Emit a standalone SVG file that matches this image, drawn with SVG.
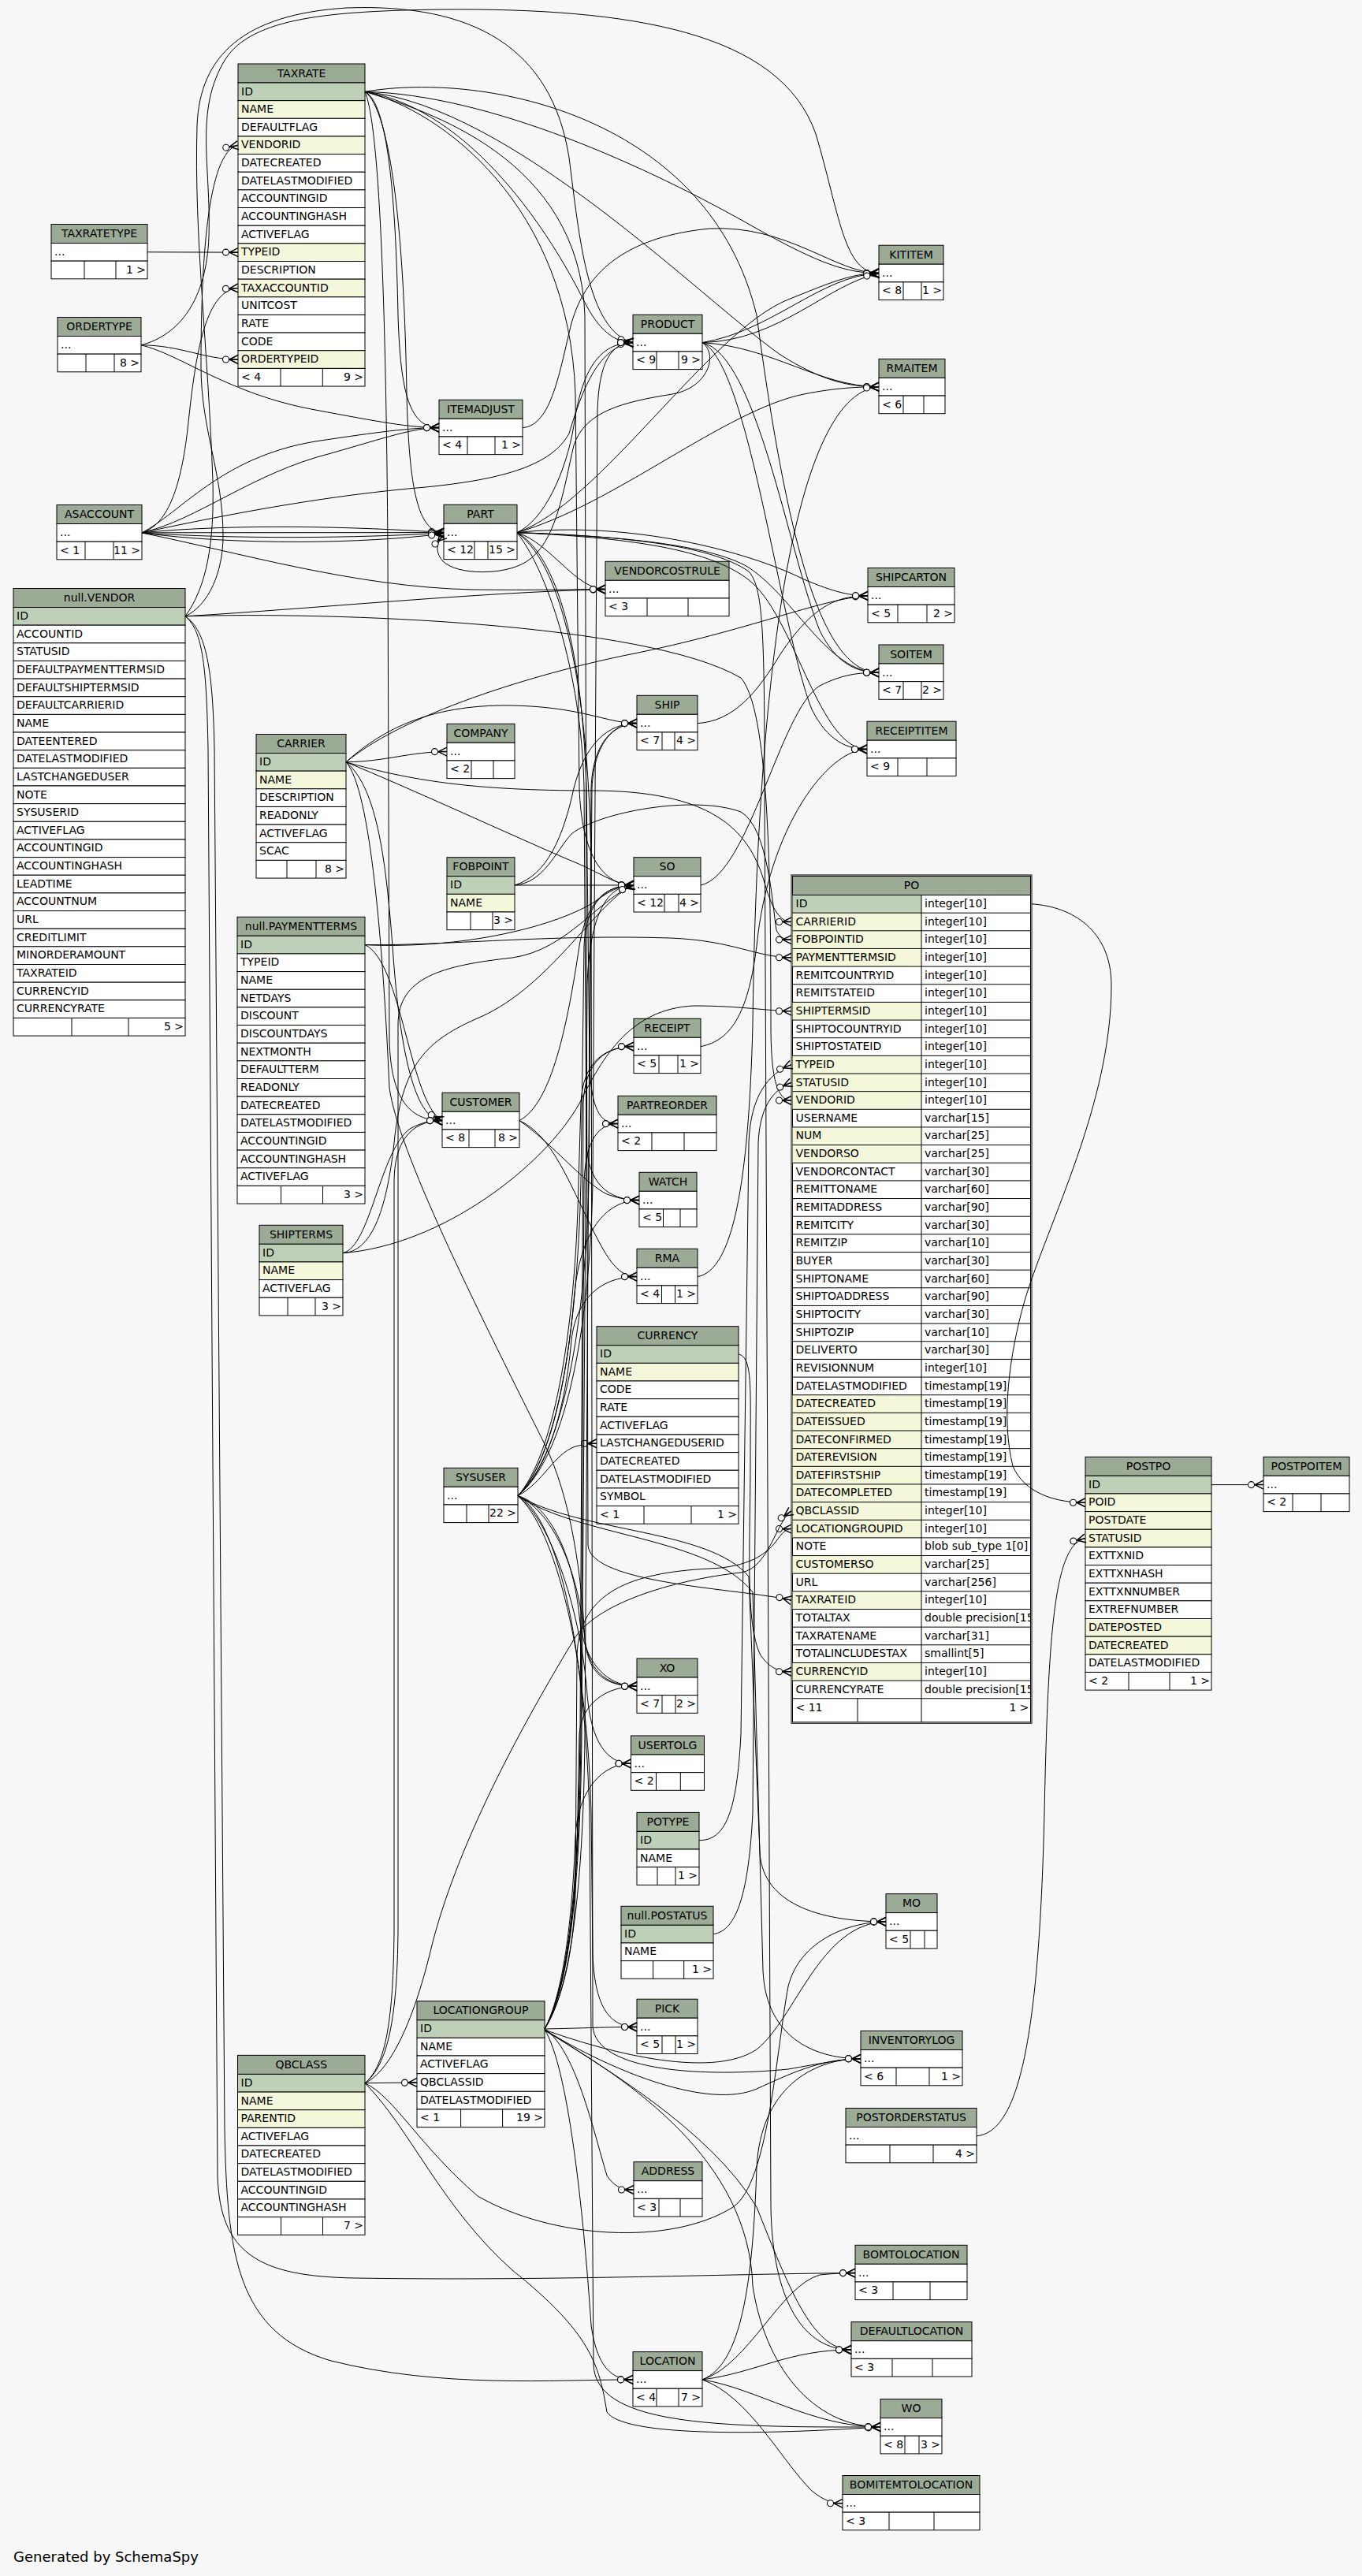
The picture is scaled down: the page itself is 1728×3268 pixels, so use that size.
<svg xmlns="http://www.w3.org/2000/svg" width="1728" height="3268" viewBox="0 0 1728 3268">
<style>
rect{stroke:#000;stroke-width:1}
.bg{fill:#f7f7f7;stroke:none}
.hd{fill:#9bab96}
.pk{fill:#bed1b8}
.ix{fill:#f4f7da}
.wt{fill:#fff}
.f{stroke:none}
.dv{fill:none;stroke:#000;stroke-width:1}
text{font-family:"DejaVu Sans","Liberation Sans",sans-serif;font-size:14px;fill:#000}
.c{text-anchor:middle}
.r{text-anchor:end}
.e path{fill:none;stroke:#000;stroke-width:1;marker-end:url(#cf)}
</style>
<defs>
<marker id="cf" markerUnits="userSpaceOnUse" viewBox="0 0 22 14" markerWidth="22" markerHeight="14" refX="21" refY="7" orient="auto" overflow="visible">
<path d="M10,7L21,1.5M10,7L21,7M10,7L21,12.5" fill="none" stroke="#000" stroke-width="1.5"/>
<circle cx="5.5" cy="7" r="4" fill="#fff" stroke="#000" stroke-width="1.1"/>
</marker>
<clipPath id="poclip"><rect x="163.5" y="0" width="138" height="1074"/></clipPath>
</defs>
<rect class="bg" width="1728" height="3268"/>

<!-- ===== TABLES ===== -->
<g id="t-TAXRATE" transform="translate(302,81)">
<rect class="hd" width="161" height="24"/><text class="c" x="80.5" y="16.5">TAXRATE</text>
<rect class="pk" y="24" width="161" height="22.65"/><text x="4" y="39.5">ID</text>
<rect class="ix" y="46.65" width="161" height="22.65"/><text x="4" y="62.15">NAME</text>
<rect class="wt" y="69.3" width="161" height="22.65"/><text x="4" y="84.8">DEFAULTFLAG</text>
<rect class="ix" y="91.95" width="161" height="22.65"/><text x="4" y="107.45">VENDORID</text>
<rect class="wt" y="114.6" width="161" height="22.65"/><text x="4" y="130.1">DATECREATED</text>
<rect class="wt" y="137.25" width="161" height="22.65"/><text x="4" y="152.75">DATELASTMODIFIED</text>
<rect class="wt" y="159.9" width="161" height="22.65"/><text x="4" y="175.4">ACCOUNTINGID</text>
<rect class="wt" y="182.55" width="161" height="22.65"/><text x="4" y="198.05">ACCOUNTINGHASH</text>
<rect class="wt" y="205.2" width="161" height="22.65"/><text x="4" y="220.7">ACTIVEFLAG</text>
<rect class="ix" y="227.85" width="161" height="22.65"/><text x="4" y="243.35">TYPEID</text>
<rect class="wt" y="250.5" width="161" height="22.65"/><text x="4" y="266">DESCRIPTION</text>
<rect class="ix" y="273.15" width="161" height="22.65"/><text x="4" y="288.65">TAXACCOUNTID</text>
<rect class="wt" y="295.8" width="161" height="22.65"/><text x="4" y="311.3">UNITCOST</text>
<rect class="wt" y="318.45" width="161" height="22.65"/><text x="4" y="333.95">RATE</text>
<rect class="wt" y="341.1" width="161" height="22.65"/><text x="4" y="356.6">CODE</text>
<rect class="ix" y="363.75" width="161" height="22.65"/><text x="4" y="379.25">ORDERTYPEID</text>
<rect class="wt" y="386.4" width="161" height="22.65"/><path class="dv" d="M54 386.4v22.65M107.3 386.4v22.65"/><text x="4" y="401.9">&lt; 4</text><text class="r" x="159" y="401.9">9 &gt;</text>
</g>

<g id="t-TAXRATETYPE" transform="translate(65,284.5)">
<rect class="hd" width="122" height="24"/><text class="c" x="61" y="16.5">TAXRATETYPE</text>
<rect class="wt" y="24" width="122" height="22.65"/><text x="4" y="39.5">...</text>
<rect class="wt" y="46.65" width="122" height="22.65"/><path class="dv" d="M42 46.65v22.65M82 46.65v22.65"/><text class="r" x="120" y="62.15">1 &gt;</text>
</g>

<g id="t-ORDERTYPE" transform="translate(73,402.5)">
<rect class="hd" width="106" height="24"/><text class="c" x="53" y="16.5">ORDERTYPE</text>
<rect class="wt" y="24" width="106" height="22.65"/><text x="4" y="39.5">...</text>
<rect class="wt" y="46.65" width="106" height="22.65"/><path class="dv" d="M36 46.65v22.65M72 46.65v22.65"/><text class="r" x="104" y="62.15">8 &gt;</text>
</g>

<g id="t-ASACCOUNT" transform="translate(72,640.5)">
<rect class="hd" width="108" height="24"/><text class="c" x="54" y="16.5">ASACCOUNT</text>
<rect class="wt" y="24" width="108" height="22.65"/><text x="4" y="39.5">...</text>
<rect class="wt" y="46.65" width="108" height="22.65"/><path class="dv" d="M36 46.65v22.65M72 46.65v22.65"/><text x="4" y="62.15">&lt; 1</text><text class="r" x="106" y="62.15">11 &gt;</text>
</g>

<g id="t-VENDOR" transform="translate(17,746.5)">
<rect class="hd" width="218" height="24"/><text class="c" x="109" y="16.5">null.VENDOR</text>
<rect class="pk" y="24" width="218" height="22.65"/><text x="4" y="39.5">ID</text>
<rect class="wt" y="46.65" width="218" height="22.65"/><text x="4" y="62.15">ACCOUNTID</text>
<rect class="wt" y="69.3" width="218" height="22.65"/><text x="4" y="84.8">STATUSID</text>
<rect class="wt" y="91.95" width="218" height="22.65"/><text x="4" y="107.45">DEFAULTPAYMENTTERMSID</text>
<rect class="wt" y="114.6" width="218" height="22.65"/><text x="4" y="130.1">DEFAULTSHIPTERMSID</text>
<rect class="wt" y="137.25" width="218" height="22.65"/><text x="4" y="152.75">DEFAULTCARRIERID</text>
<rect class="wt" y="159.9" width="218" height="22.65"/><text x="4" y="175.4">NAME</text>
<rect class="wt" y="182.55" width="218" height="22.65"/><text x="4" y="198.05">DATEENTERED</text>
<rect class="wt" y="205.2" width="218" height="22.65"/><text x="4" y="220.7">DATELASTMODIFIED</text>
<rect class="wt" y="227.85" width="218" height="22.65"/><text x="4" y="243.35">LASTCHANGEDUSER</text>
<rect class="wt" y="250.5" width="218" height="22.65"/><text x="4" y="266">NOTE</text>
<rect class="wt" y="273.15" width="218" height="22.65"/><text x="4" y="288.65">SYSUSERID</text>
<rect class="wt" y="295.8" width="218" height="22.65"/><text x="4" y="311.3">ACTIVEFLAG</text>
<rect class="wt" y="318.45" width="218" height="22.65"/><text x="4" y="333.95">ACCOUNTINGID</text>
<rect class="wt" y="341.1" width="218" height="22.65"/><text x="4" y="356.6">ACCOUNTINGHASH</text>
<rect class="wt" y="363.75" width="218" height="22.65"/><text x="4" y="379.25">LEADTIME</text>
<rect class="wt" y="386.4" width="218" height="22.65"/><text x="4" y="401.9">ACCOUNTNUM</text>
<rect class="wt" y="409.05" width="218" height="22.65"/><text x="4" y="424.55">URL</text>
<rect class="wt" y="431.7" width="218" height="22.65"/><text x="4" y="447.2">CREDITLIMIT</text>
<rect class="wt" y="454.35" width="218" height="22.65"/><text x="4" y="469.85">MINORDERAMOUNT</text>
<rect class="wt" y="477" width="218" height="22.65"/><text x="4" y="492.5">TAXRATEID</text>
<rect class="wt" y="499.65" width="218" height="22.65"/><text x="4" y="515.15">CURRENCYID</text>
<rect class="wt" y="522.3" width="218" height="22.65"/><text x="4" y="537.8">CURRENCYRATE</text>
<rect class="wt" y="544.95" width="218" height="22.65"/><path class="dv" d="M74 544.95v22.65M146 544.95v22.65"/><text class="r" x="216" y="560.45">5 &gt;</text>
</g>

<g id="t-CARRIER" transform="translate(325,931.5)">
<rect class="hd" width="114" height="24"/><text class="c" x="57" y="16.5">CARRIER</text>
<rect class="pk" y="24" width="114" height="22.65"/><text x="4" y="39.5">ID</text>
<rect class="ix" y="46.65" width="114" height="22.65"/><text x="4" y="62.15">NAME</text>
<rect class="wt" y="69.3" width="114" height="22.65"/><text x="4" y="84.8">DESCRIPTION</text>
<rect class="wt" y="91.95" width="114" height="22.65"/><text x="4" y="107.45">READONLY</text>
<rect class="wt" y="114.6" width="114" height="22.65"/><text x="4" y="130.1">ACTIVEFLAG</text>
<rect class="wt" y="137.25" width="114" height="22.65"/><text x="4" y="152.75">SCAC</text>
<rect class="wt" y="159.9" width="114" height="22.65"/><path class="dv" d="M39 159.9v22.65M76 159.9v22.65"/><text class="r" x="112" y="175.4">8 &gt;</text>
</g>

<g id="t-PAYMENTTERMS" transform="translate(301,1163.3)">
<rect class="hd" width="162" height="24"/><text class="c" x="81" y="16.5">null.PAYMENTTERMS</text>
<rect class="pk" y="24" width="162" height="22.65"/><text x="4" y="39.5">ID</text>
<rect class="wt" y="46.65" width="162" height="22.65"/><text x="4" y="62.15">TYPEID</text>
<rect class="wt" y="69.3" width="162" height="22.65"/><text x="4" y="84.8">NAME</text>
<rect class="wt" y="91.95" width="162" height="22.65"/><text x="4" y="107.45">NETDAYS</text>
<rect class="wt" y="114.6" width="162" height="22.65"/><text x="4" y="130.1">DISCOUNT</text>
<rect class="wt" y="137.25" width="162" height="22.65"/><text x="4" y="152.75">DISCOUNTDAYS</text>
<rect class="wt" y="159.9" width="162" height="22.65"/><text x="4" y="175.4">NEXTMONTH</text>
<rect class="wt" y="182.55" width="162" height="22.65"/><text x="4" y="198.05">DEFAULTTERM</text>
<rect class="wt" y="205.2" width="162" height="22.65"/><text x="4" y="220.7">READONLY</text>
<rect class="wt" y="227.85" width="162" height="22.65"/><text x="4" y="243.35">DATECREATED</text>
<rect class="wt" y="250.5" width="162" height="22.65"/><text x="4" y="266">DATELASTMODIFIED</text>
<rect class="wt" y="273.15" width="162" height="22.65"/><text x="4" y="288.65">ACCOUNTINGID</text>
<rect class="wt" y="295.8" width="162" height="22.65"/><text x="4" y="311.3">ACCOUNTINGHASH</text>
<rect class="wt" y="318.45" width="162" height="22.65"/><text x="4" y="333.95">ACTIVEFLAG</text>
<rect class="wt" y="341.1" width="162" height="22.65"/><path class="dv" d="M55.5 341.1v22.65M108.5 341.1v22.65"/><text class="r" x="160" y="356.6">3 &gt;</text>
</g>

<g id="t-SHIPTERMS" transform="translate(329,1554.3)">
<rect class="hd" width="106" height="24"/><text class="c" x="53" y="16.5">SHIPTERMS</text>
<rect class="pk" y="24" width="106" height="22.65"/><text x="4" y="39.5">ID</text>
<rect class="ix" y="46.65" width="106" height="22.65"/><text x="4" y="62.15">NAME</text>
<rect class="wt" y="69.3" width="106" height="22.65"/><text x="4" y="84.8">ACTIVEFLAG</text>
<rect class="wt" y="91.95" width="106" height="22.65"/><path class="dv" d="M36 91.95v22.65M71 91.95v22.65"/><text class="r" x="104" y="107.45">3 &gt;</text>
</g>

<g id="t-QBCLASS" transform="translate(301.5,2607.4)">
<rect class="hd" width="161.5" height="24"/><text class="c" x="80.75" y="16.5">QBCLASS</text>
<rect class="pk" y="24" width="161.5" height="22.65"/><text x="4" y="39.5">ID</text>
<rect class="ix" y="46.65" width="161.5" height="22.65"/><text x="4" y="62.15">NAME</text>
<rect class="ix" y="69.3" width="161.5" height="22.65"/><text x="4" y="84.8">PARENTID</text>
<rect class="wt" y="91.95" width="161.5" height="22.65"/><text x="4" y="107.45">ACTIVEFLAG</text>
<rect class="wt" y="114.6" width="161.5" height="22.65"/><text x="4" y="130.1">DATECREATED</text>
<rect class="wt" y="137.25" width="161.5" height="22.65"/><text x="4" y="152.75">DATELASTMODIFIED</text>
<rect class="wt" y="159.9" width="161.5" height="22.65"/><text x="4" y="175.4">ACCOUNTINGID</text>
<rect class="wt" y="182.55" width="161.5" height="22.65"/><text x="4" y="198.05">ACCOUNTINGHASH</text>
<rect class="wt" y="205.2" width="161.5" height="22.65"/><path class="dv" d="M55 205.2v22.65M108 205.2v22.65"/><text class="r" x="159.5" y="220.7">7 &gt;</text>
</g>

<g id="t-LOCATIONGROUP" transform="translate(529,2538.7)">
<rect class="hd" width="162" height="24"/><text class="c" x="81" y="16.5">LOCATIONGROUP</text>
<rect class="pk" y="24" width="162" height="22.65"/><text x="4" y="39.5">ID</text>
<rect class="wt" y="46.65" width="162" height="22.65"/><text x="4" y="62.15">NAME</text>
<rect class="wt" y="69.3" width="162" height="22.65"/><text x="4" y="84.8">ACTIVEFLAG</text>
<rect class="wt" y="91.95" width="162" height="22.65"/><text x="4" y="107.45">QBCLASSID</text>
<rect class="wt" y="114.6" width="162" height="22.65"/><text x="4" y="130.1">DATELASTMODIFIED</text>
<rect class="wt" y="137.25" width="162" height="22.65"/><path class="dv" d="M55.6 137.25v22.65M108.6 137.25v22.65"/><text x="4" y="152.75">&lt; 1</text><text class="r" x="160" y="152.75">19 &gt;</text>
</g>

<g id="t-FOBPOINT" transform="translate(567,1087.7)">
<rect class="hd" width="86" height="24"/><text class="c" x="43" y="16.5">FOBPOINT</text>
<rect class="pk" y="24" width="86" height="22.65"/><text x="4" y="39.5">ID</text>
<rect class="ix" y="46.65" width="86" height="22.65"/><text x="4" y="62.15">NAME</text>
<rect class="wt" y="69.3" width="86" height="22.65"/><path class="dv" d="M30 69.3v22.65M58 69.3v22.65"/><text class="r" x="84" y="84.8">3 &gt;</text>
</g>

<g id="t-CURRENCY" transform="translate(757,1682.7)">
<rect class="hd" width="180" height="24"/><text class="c" x="90" y="16.5">CURRENCY</text>
<rect class="pk" y="24" width="180" height="22.65"/><text x="4" y="39.5">ID</text>
<rect class="ix" y="46.65" width="180" height="22.65"/><text x="4" y="62.15">NAME</text>
<rect class="wt" y="69.3" width="180" height="22.65"/><text x="4" y="84.8">CODE</text>
<rect class="wt" y="91.95" width="180" height="22.65"/><text x="4" y="107.45">RATE</text>
<rect class="wt" y="114.6" width="180" height="22.65"/><text x="4" y="130.1">ACTIVEFLAG</text>
<rect class="wt" y="137.25" width="180" height="22.65"/><text x="4" y="152.75">LASTCHANGEDUSERID</text>
<rect class="wt" y="159.9" width="180" height="22.65"/><text x="4" y="175.4">DATECREATED</text>
<rect class="wt" y="182.55" width="180" height="22.65"/><text x="4" y="198.05">DATELASTMODIFIED</text>
<rect class="wt" y="205.2" width="180" height="22.65"/><text x="4" y="220.7">SYMBOL</text>
<rect class="wt" y="227.85" width="180" height="22.65"/><path class="dv" d="M60 227.85v22.65M120 227.85v22.65"/><text x="4" y="243.35">&lt; 1</text><text class="r" x="178" y="243.35">1 &gt;</text>
</g>

<g id="t-POTYPE" transform="translate(808,2299.4)">
<rect class="hd" width="79" height="24"/><text class="c" x="39.5" y="16.5">POTYPE</text>
<rect class="pk" y="24" width="79" height="22.65"/><text x="4" y="39.5">ID</text>
<rect class="wt" y="46.65" width="79" height="22.65"/><text x="4" y="62.15">NAME</text>
<rect class="wt" y="69.3" width="79" height="22.65"/><path class="dv" d="M26 69.3v22.65M49 69.3v22.65"/><text class="r" x="77" y="84.8">1 &gt;</text>
</g>

<g id="t-POSTATUS" transform="translate(788,2418.3)">
<rect class="hd" width="117" height="24"/><text class="c" x="58.5" y="16.5">null.POSTATUS</text>
<rect class="pk" y="24" width="117" height="22.65"/><text x="4" y="39.5">ID</text>
<rect class="wt" y="46.65" width="117" height="22.65"/><text x="4" y="62.15">NAME</text>
<rect class="wt" y="69.3" width="117" height="22.65"/><path class="dv" d="M40.6 69.3v22.65M79.7 69.3v22.65"/><text class="r" x="115" y="84.8">1 &gt;</text>
</g>

<g id="t-POSTPO" transform="translate(1377,1848.3)">
<rect class="hd" width="160" height="24"/><text class="c" x="80" y="16.5">POSTPO</text>
<rect class="pk" y="24" width="160" height="22.65"/><text x="4" y="39.5">ID</text>
<rect class="ix" y="46.65" width="160" height="22.65"/><text x="4" y="62.15">POID</text>
<rect class="ix" y="69.3" width="160" height="22.65"/><text x="4" y="84.8">POSTDATE</text>
<rect class="ix" y="91.95" width="160" height="22.65"/><text x="4" y="107.45">STATUSID</text>
<rect class="wt" y="114.6" width="160" height="22.65"/><text x="4" y="130.1">EXTTXNID</text>
<rect class="wt" y="137.25" width="160" height="22.65"/><text x="4" y="152.75">EXTTXNHASH</text>
<rect class="wt" y="159.9" width="160" height="22.65"/><text x="4" y="175.4">EXTTXNNUMBER</text>
<rect class="wt" y="182.55" width="160" height="22.65"/><text x="4" y="198.05">EXTREFNUMBER</text>
<rect class="ix" y="205.2" width="160" height="22.65"/><text x="4" y="220.7">DATEPOSTED</text>
<rect class="ix" y="227.85" width="160" height="22.65"/><text x="4" y="243.35">DATECREATED</text>
<rect class="wt" y="250.5" width="160" height="22.65"/><text x="4" y="266">DATELASTMODIFIED</text>
<rect class="wt" y="273.15" width="160" height="22.65"/><path class="dv" d="M55 273.15v22.65M107 273.15v22.65"/><text x="4" y="288.65">&lt; 2</text><text class="r" x="158" y="288.65">1 &gt;</text>
</g>

<g id="t-SYSUSER" transform="translate(563,1862.3)">
<rect class="hd" width="94" height="24"/><text class="c" x="47" y="16.5">SYSUSER</text>
<rect class="wt" y="24" width="94" height="22.65"/><text x="4" y="39.5">...</text>
<rect class="wt" y="46.65" width="94" height="22.65"/><path class="dv" d="M29 46.65v22.65M57 46.65v22.65"/><text class="r" x="92" y="62.15">22 &gt;</text>
</g>

<g id="t-COMPANY" transform="translate(567,918.3)">
<rect class="hd" width="86" height="24"/><text class="c" x="43" y="16.5">COMPANY</text>
<rect class="wt" y="24" width="86" height="22.65"/><text x="4" y="39.5">...</text>
<rect class="wt" y="46.65" width="86" height="22.65"/><path class="dv" d="M31 46.65v22.65M59 46.65v22.65"/><text x="4" y="62.15">&lt; 2</text>
</g>

<g id="t-ITEMADJUST" transform="translate(557,507.3)">
<rect class="hd" width="106" height="24"/><text class="c" x="53" y="16.5">ITEMADJUST</text>
<rect class="wt" y="24" width="106" height="22.65"/><text x="4" y="39.5">...</text>
<rect class="wt" y="46.65" width="106" height="22.65"/><path class="dv" d="M36 46.65v22.65M71 46.65v22.65"/><text x="4" y="62.15">&lt; 4</text><text class="r" x="104" y="62.15">1 &gt;</text>
</g>

<g id="t-PART" transform="translate(563,640.3)">
<rect class="hd" width="93" height="24"/><text class="c" x="46.5" y="16.5">PART</text>
<rect class="wt" y="24" width="93" height="22.65"/><text x="4" y="39.5">...</text>
<rect class="wt" y="46.65" width="93" height="22.65"/><path class="dv" d="M39 46.65v22.65M56 46.65v22.65"/><text x="4" y="62.15">&lt; 12</text><text class="r" x="91" y="62.15">15 &gt;</text>
</g>

<g id="t-PRODUCT" transform="translate(803,399.3)">
<rect class="hd" width="88" height="24"/><text class="c" x="44" y="16.5">PRODUCT</text>
<rect class="wt" y="24" width="88" height="22.65"/><text x="4" y="39.5">...</text>
<rect class="wt" y="46.65" width="88" height="22.65"/><path class="dv" d="M30 46.65v22.65M58 46.65v22.65"/><text x="4" y="62.15">&lt; 9</text><text class="r" x="86" y="62.15">9 &gt;</text>
</g>

<g id="t-VENDORCOSTRULE" transform="translate(768,712.3)">
<rect class="hd" width="157" height="24"/><text class="c" x="78.5" y="16.5">VENDORCOSTRULE</text>
<rect class="wt" y="24" width="157" height="22.65"/><text x="4" y="39.5">...</text>
<rect class="wt" y="46.65" width="157" height="22.65"/><path class="dv" d="M53 46.65v22.65M105 46.65v22.65"/><text x="4" y="62.15">&lt; 3</text>
</g>

<g id="t-SHIP" transform="translate(808,882.3)">
<rect class="hd" width="77" height="24"/><text class="c" x="38.5" y="16.5">SHIP</text>
<rect class="wt" y="24" width="77" height="22.65"/><text x="4" y="39.5">...</text>
<rect class="wt" y="46.65" width="77" height="22.65"/><path class="dv" d="M32 46.65v22.65M48 46.65v22.65"/><text x="4" y="62.15">&lt; 7</text><text class="r" x="75" y="62.15">4 &gt;</text>
</g>

<g id="t-SO" transform="translate(804,1087.7)">
<rect class="hd" width="85" height="24"/><text class="c" x="42.5" y="16.5">SO</text>
<rect class="wt" y="24" width="85" height="22.65"/><text x="4" y="39.5">...</text>
<rect class="wt" y="46.65" width="85" height="22.65"/><path class="dv" d="M39 46.65v22.65M57 46.65v22.65"/><text x="4" y="62.15">&lt; 12</text><text class="r" x="83" y="62.15">4 &gt;</text>
</g>

<g id="t-CUSTOMER" transform="translate(561,1386.3)">
<rect class="hd" width="98" height="24"/><text class="c" x="49" y="16.5">CUSTOMER</text>
<rect class="wt" y="24" width="98" height="22.65"/><text x="4" y="39.5">...</text>
<rect class="wt" y="46.65" width="98" height="22.65"/><path class="dv" d="M34 46.65v22.65M67 46.65v22.65"/><text x="4" y="62.15">&lt; 8</text><text class="r" x="96" y="62.15">8 &gt;</text>
</g>

<g id="t-RECEIPT" transform="translate(804,1292.3)">
<rect class="hd" width="85" height="24"/><text class="c" x="42.5" y="16.5">RECEIPT</text>
<rect class="wt" y="24" width="85" height="22.65"/><text x="4" y="39.5">...</text>
<rect class="wt" y="46.65" width="85" height="22.65"/><path class="dv" d="M32 46.65v22.65M56 46.65v22.65"/><text x="4" y="62.15">&lt; 5</text><text class="r" x="83" y="62.15">1 &gt;</text>
</g>

<g id="t-PARTREORDER" transform="translate(784,1390.3)">
<rect class="hd" width="125" height="24"/><text class="c" x="62.5" y="16.5">PARTREORDER</text>
<rect class="wt" y="24" width="125" height="22.65"/><text x="4" y="39.5">...</text>
<rect class="wt" y="46.65" width="125" height="22.65"/><path class="dv" d="M43 46.65v22.65M84 46.65v22.65"/><text x="4" y="62.15">&lt; 2</text>
</g>

<g id="t-WATCH" transform="translate(811,1487.3)">
<rect class="hd" width="73" height="24"/><text class="c" x="36.5" y="16.5">WATCH</text>
<rect class="wt" y="24" width="73" height="22.65"/><text x="4" y="39.5">...</text>
<rect class="wt" y="46.65" width="73" height="22.65"/><path class="dv" d="M30.5 46.65v22.65M52 46.65v22.65"/><text x="4" y="62.15">&lt; 5</text>
</g>

<g id="t-RMA" transform="translate(808,1584.3)">
<rect class="hd" width="77" height="24"/><text class="c" x="38.5" y="16.5">RMA</text>
<rect class="wt" y="24" width="77" height="22.65"/><text x="4" y="39.5">...</text>
<rect class="wt" y="46.65" width="77" height="22.65"/><path class="dv" d="M31.5 46.65v22.65M48.5 46.65v22.65"/><text x="4" y="62.15">&lt; 4</text><text class="r" x="75" y="62.15">1 &gt;</text>
</g>

<g id="t-XO" transform="translate(808,2104)">
<rect class="hd" width="77" height="24"/><text class="c" x="38.5" y="16.5">XO</text>
<rect class="wt" y="24" width="77" height="22.65"/><text x="4" y="39.5">...</text>
<rect class="wt" y="46.65" width="77" height="22.65"/><path class="dv" d="M32 46.65v22.65M49 46.65v22.65"/><text x="4" y="62.15">&lt; 7</text><text class="r" x="75" y="62.15">2 &gt;</text>
</g>

<g id="t-USERTOLG" transform="translate(800.5,2202)">
<rect class="hd" width="93" height="24"/><text class="c" x="46.5" y="16.5">USERTOLG</text>
<rect class="wt" y="24" width="93" height="22.65"/><text x="4" y="39.5">...</text>
<rect class="wt" y="46.65" width="93" height="22.65"/><path class="dv" d="M32 46.65v22.65M62.8 46.65v22.65"/><text x="4" y="62.15">&lt; 2</text>
</g>

<g id="t-PICK" transform="translate(808,2536.2)">
<rect class="hd" width="77" height="24"/><text class="c" x="38.5" y="16.5">PICK</text>
<rect class="wt" y="24" width="77" height="22.65"/><text x="4" y="39.5">...</text>
<rect class="wt" y="46.65" width="77" height="22.65"/><path class="dv" d="M32 46.65v22.65M49 46.65v22.65"/><text x="4" y="62.15">&lt; 5</text><text class="r" x="75" y="62.15">1 &gt;</text>
</g>

<g id="t-ADDRESS" transform="translate(804,2742.7)">
<rect class="hd" width="87" height="24"/><text class="c" x="43.5" y="16.5">ADDRESS</text>
<rect class="wt" y="24" width="87" height="22.65"/><text x="4" y="39.5">...</text>
<rect class="wt" y="46.65" width="87" height="22.65"/><path class="dv" d="M32 46.65v22.65M59 46.65v22.65"/><text x="4" y="62.15">&lt; 3</text>
</g>

<g id="t-LOCATION" transform="translate(803,2983.6)">
<rect class="hd" width="88" height="24"/><text class="c" x="44" y="16.5">LOCATION</text>
<rect class="wt" y="24" width="88" height="22.65"/><text x="4" y="39.5">...</text>
<rect class="wt" y="46.65" width="88" height="22.65"/><path class="dv" d="M30 46.65v22.65M58 46.65v22.65"/><text x="4" y="62.15">&lt; 4</text><text class="r" x="86" y="62.15">7 &gt;</text>
</g>

<g id="t-KITITEM" transform="translate(1115,311.2)">
<rect class="hd" width="82" height="24"/><text class="c" x="41" y="16.5">KITITEM</text>
<rect class="wt" y="24" width="82" height="22.65"/><text x="4" y="39.5">...</text>
<rect class="wt" y="46.65" width="82" height="22.65"/><path class="dv" d="M31 46.65v22.65M54 46.65v22.65"/><text x="4" y="62.15">&lt; 8</text><text class="r" x="80" y="62.15">1 &gt;</text>
</g>

<g id="t-RMAITEM" transform="translate(1115,455.4)">
<rect class="hd" width="84" height="24"/><text class="c" x="42" y="16.5">RMAITEM</text>
<rect class="wt" y="24" width="84" height="22.65"/><text x="4" y="39.5">...</text>
<rect class="wt" y="46.65" width="84" height="22.65"/><path class="dv" d="M31 46.65v22.65M57 46.65v22.65"/><text x="4" y="62.15">&lt; 6</text>
</g>

<g id="t-SHIPCARTON" transform="translate(1101,720.5)">
<rect class="hd" width="110" height="24"/><text class="c" x="55" y="16.5">SHIPCARTON</text>
<rect class="wt" y="24" width="110" height="22.65"/><text x="4" y="39.5">...</text>
<rect class="wt" y="46.65" width="110" height="22.65"/><path class="dv" d="M38 46.65v22.65M75 46.65v22.65"/><text x="4" y="62.15">&lt; 5</text><text class="r" x="108" y="62.15">2 &gt;</text>
</g>

<g id="t-SOITEM" transform="translate(1115,818)">
<rect class="hd" width="82" height="24"/><text class="c" x="41" y="16.5">SOITEM</text>
<rect class="wt" y="24" width="82" height="22.65"/><text x="4" y="39.5">...</text>
<rect class="wt" y="46.65" width="82" height="22.65"/><path class="dv" d="M31 46.65v22.65M54 46.65v22.65"/><text x="4" y="62.15">&lt; 7</text><text class="r" x="80" y="62.15">2 &gt;</text>
</g>

<g id="t-RECEIPTITEM" transform="translate(1100,915.2)">
<rect class="hd" width="113" height="24"/><text class="c" x="56.5" y="16.5">RECEIPTITEM</text>
<rect class="wt" y="24" width="113" height="22.65"/><text x="4" y="39.5">...</text>
<rect class="wt" y="46.65" width="113" height="22.65"/><path class="dv" d="M39 46.65v22.65M76 46.65v22.65"/><text x="4" y="62.15">&lt; 9</text>
</g>

<g id="t-POSTPOITEM" transform="translate(1603,1848.3)">
<rect class="hd" width="109" height="24"/><text class="c" x="54.5" y="16.5">POSTPOITEM</text>
<rect class="wt" y="24" width="109" height="22.65"/><text x="4" y="39.5">...</text>
<rect class="wt" y="46.65" width="109" height="22.65"/><path class="dv" d="M37 46.65v22.65M73 46.65v22.65"/><text x="4" y="62.15">&lt; 2</text>
</g>

<g id="t-MO" transform="translate(1124,2402.6)">
<rect class="hd" width="65" height="24"/><text class="c" x="32.5" y="16.5">MO</text>
<rect class="wt" y="24" width="65" height="22.65"/><text x="4" y="39.5">...</text>
<rect class="wt" y="46.65" width="65" height="22.65"/><path class="dv" d="M31 46.65v22.65M49 46.65v22.65"/><text x="4" y="62.15">&lt; 5</text>
</g>

<g id="t-INVENTORYLOG" transform="translate(1092,2576.5)">
<rect class="hd" width="129" height="24"/><text class="c" x="64.5" y="16.5">INVENTORYLOG</text>
<rect class="wt" y="24" width="129" height="22.65"/><text x="4" y="39.5">...</text>
<rect class="wt" y="46.65" width="129" height="22.65"/><path class="dv" d="M45 46.65v22.65M87 46.65v22.65"/><text x="4" y="62.15">&lt; 6</text><text class="r" x="127" y="62.15">1 &gt;</text>
</g>

<g id="t-POSTORDERSTATUS" transform="translate(1073,2674.5)">
<rect class="hd" width="166" height="24"/><text class="c" x="83" y="16.5">POSTORDERSTATUS</text>
<rect class="wt" y="24" width="166" height="22.65"/><text x="4" y="39.5">...</text>
<rect class="wt" y="46.65" width="166" height="22.65"/><path class="dv" d="M56 46.65v22.65M111 46.65v22.65"/><text class="r" x="164" y="62.15">4 &gt;</text>
</g>

<g id="t-BOMTOLOCATION" transform="translate(1085,2848.3)">
<rect class="hd" width="142" height="24"/><text class="c" x="71" y="16.5">BOMTOLOCATION</text>
<rect class="wt" y="24" width="142" height="22.65"/><text x="4" y="39.5">...</text>
<rect class="wt" y="46.65" width="142" height="22.65"/><path class="dv" d="M48 46.65v22.65M95 46.65v22.65"/><text x="4" y="62.15">&lt; 3</text>
</g>

<g id="t-DEFAULTLOCATION" transform="translate(1080,2945.7)">
<rect class="hd" width="153" height="24"/><text class="c" x="76.5" y="16.5">DEFAULTLOCATION</text>
<rect class="wt" y="24" width="153" height="22.65"/><text x="4" y="39.5">...</text>
<rect class="wt" y="46.65" width="153" height="22.65"/><path class="dv" d="M52 46.65v22.65M103 46.65v22.65"/><text x="4" y="62.15">&lt; 3</text>
</g>

<g id="t-WO" transform="translate(1117,3043.6)">
<rect class="hd" width="78" height="24"/><text class="c" x="39" y="16.5">WO</text>
<rect class="wt" y="24" width="78" height="22.65"/><text x="4" y="39.5">...</text>
<rect class="wt" y="46.65" width="78" height="22.65"/><path class="dv" d="M31 46.65v22.65M49 46.65v22.65"/><text x="4" y="62.15">&lt; 8</text><text class="r" x="76" y="62.15">3 &gt;</text>
</g>

<g id="t-BOMITEMTOLOCATION" transform="translate(1069,3140.5)">
<rect class="hd" width="174" height="24"/><text class="c" x="87" y="16.5">BOMITEMTOLOCATION</text>
<rect class="wt" y="24" width="174" height="22.65"/><text x="4" y="39.5">...</text>
<rect class="wt" y="46.65" width="174" height="22.65"/><path class="dv" d="M59 46.65v22.65M116 46.65v22.65"/><text x="4" y="62.15">&lt; 3</text>
</g>

<g id="t-PO" transform="translate(1005.5,1111.5)">
<rect class="hd" width="302" height="24"/><text class="c" x="151" y="16.5">PO</text>
<rect class="wt" y="24" width="302" height="1049.25"/>
<rect class="pk f" y="24" width="163.5" height="22.65"/>
<rect class="ix f" y="46.65" width="163.5" height="67.95"/>
<rect class="ix f" y="159.9" width="163.5" height="22.65"/>
<rect class="ix f" y="227.85" width="163.5" height="67.95"/>
<rect class="ix f" y="318.45" width="163.5" height="45.3"/>
<rect class="ix f" y="658.2" width="163.5" height="181.2"/>
<rect class="ix f" y="862.05" width="163.5" height="22.65"/>
<rect class="ix f" y="907.35" width="163.5" height="22.65"/>
<rect class="ix f" y="997.95" width="163.5" height="22.65"/>
<path class="dv" d="M0 24H302M0 46.65H302M0 69.3H302M0 91.95H302M0 114.6H302M0 137.25H302M0 159.9H302M0 182.55H302M0 205.2H302M0 227.85H302M0 250.5H302M0 273.15H302M0 295.8H302M0 318.45H302M0 341.1H302M0 363.75H302M0 386.4H302M0 409.05H302M0 431.7H302M0 454.35H302M0 477H302M0 499.65H302M0 522.3H302M0 544.95H302M0 567.6H302M0 590.25H302M0 612.9H302M0 635.55H302M0 658.2H302M0 680.85H302M0 703.5H302M0 726.15H302M0 748.8H302M0 771.45H302M0 794.1H302M0 816.75H302M0 839.4H302M0 862.05H302M0 884.7H302M0 907.35H302M0 930H302M0 952.65H302M0 975.3H302M0 997.95H302M0 1020.6H302M0 1043.25H302M163.5 24V1073.25M82.5 1043.25V1073.25"/>
<text x="4" y="39.5">ID</text>
<text x="4" y="62.15">CARRIERID</text>
<text x="4" y="84.8">FOBPOINTID</text>
<text x="4" y="107.45">PAYMENTTERMSID</text>
<text x="4" y="130.1">REMITCOUNTRYID</text>
<text x="4" y="152.75">REMITSTATEID</text>
<text x="4" y="175.4">SHIPTERMSID</text>
<text x="4" y="198.05">SHIPTOCOUNTRYID</text>
<text x="4" y="220.7">SHIPTOSTATEID</text>
<text x="4" y="243.35">TYPEID</text>
<text x="4" y="266">STATUSID</text>
<text x="4" y="288.65">VENDORID</text>
<text x="4" y="311.3">USERNAME</text>
<text x="4" y="333.95">NUM</text>
<text x="4" y="356.6">VENDORSO</text>
<text x="4" y="379.25">VENDORCONTACT</text>
<text x="4" y="401.9">REMITTONAME</text>
<text x="4" y="424.55">REMITADDRESS</text>
<text x="4" y="447.2">REMITCITY</text>
<text x="4" y="469.85">REMITZIP</text>
<text x="4" y="492.5">BUYER</text>
<text x="4" y="515.15">SHIPTONAME</text>
<text x="4" y="537.8">SHIPTOADDRESS</text>
<text x="4" y="560.45">SHIPTOCITY</text>
<text x="4" y="583.1">SHIPTOZIP</text>
<text x="4" y="605.75">DELIVERTO</text>
<text x="4" y="628.4">REVISIONNUM</text>
<text x="4" y="651.05">DATELASTMODIFIED</text>
<text x="4" y="673.7">DATECREATED</text>
<text x="4" y="696.35">DATEISSUED</text>
<text x="4" y="719">DATECONFIRMED</text>
<text x="4" y="741.65">DATEREVISION</text>
<text x="4" y="764.3">DATEFIRSTSHIP</text>
<text x="4" y="786.95">DATECOMPLETED</text>
<text x="4" y="809.6">QBCLASSID</text>
<text x="4" y="832.25">LOCATIONGROUPID</text>
<text x="4" y="854.9">NOTE</text>
<text x="4" y="877.55">CUSTOMERSO</text>
<text x="4" y="900.2">URL</text>
<text x="4" y="922.85">TAXRATEID</text>
<text x="4" y="945.5">TOTALTAX</text>
<text x="4" y="968.15">TAXRATENAME</text>
<text x="4" y="990.8">TOTALINCLUDESTAX</text>
<text x="4" y="1013.45">CURRENCYID</text>
<text x="4" y="1036.1">CURRENCYRATE</text>
<g clip-path="url(#poclip)">
<text x="167.5" y="39.5">integer[10]</text>
<text x="167.5" y="62.15">integer[10]</text>
<text x="167.5" y="84.8">integer[10]</text>
<text x="167.5" y="107.45">integer[10]</text>
<text x="167.5" y="130.1">integer[10]</text>
<text x="167.5" y="152.75">integer[10]</text>
<text x="167.5" y="175.4">integer[10]</text>
<text x="167.5" y="198.05">integer[10]</text>
<text x="167.5" y="220.7">integer[10]</text>
<text x="167.5" y="243.35">integer[10]</text>
<text x="167.5" y="266">integer[10]</text>
<text x="167.5" y="288.65">integer[10]</text>
<text x="167.5" y="311.3">varchar[15]</text>
<text x="167.5" y="333.95">varchar[25]</text>
<text x="167.5" y="356.6">varchar[25]</text>
<text x="167.5" y="379.25">varchar[30]</text>
<text x="167.5" y="401.9">varchar[60]</text>
<text x="167.5" y="424.55">varchar[90]</text>
<text x="167.5" y="447.2">varchar[30]</text>
<text x="167.5" y="469.85">varchar[10]</text>
<text x="167.5" y="492.5">varchar[30]</text>
<text x="167.5" y="515.15">varchar[60]</text>
<text x="167.5" y="537.8">varchar[90]</text>
<text x="167.5" y="560.45">varchar[30]</text>
<text x="167.5" y="583.1">varchar[10]</text>
<text x="167.5" y="605.75">varchar[30]</text>
<text x="167.5" y="628.4">integer[10]</text>
<text x="167.5" y="651.05">timestamp[19]</text>
<text x="167.5" y="673.7">timestamp[19]</text>
<text x="167.5" y="696.35">timestamp[19]</text>
<text x="167.5" y="719">timestamp[19]</text>
<text x="167.5" y="741.65">timestamp[19]</text>
<text x="167.5" y="764.3">timestamp[19]</text>
<text x="167.5" y="786.95">timestamp[19]</text>
<text x="167.5" y="809.6">integer[10]</text>
<text x="167.5" y="832.25">integer[10]</text>
<text x="167.5" y="854.9">blob sub_type 1[0]</text>
<text x="167.5" y="877.55">varchar[25]</text>
<text x="167.5" y="900.2">varchar[256]</text>
<text x="167.5" y="922.85">integer[10]</text>
<text x="167.5" y="945.5">double precision[15]</text>
<text x="167.5" y="968.15">varchar[31]</text>
<text x="167.5" y="990.8">smallint[5]</text>
<text x="167.5" y="1013.45">integer[10]</text>
<text x="167.5" y="1036.1">double precision[15]</text>
</g>
<text x="4" y="1059">&lt; 11</text><text class="r" x="300" y="1059">1 &gt;</text>
<rect x="-1.5" y="-1.5" width="305" height="1076.25" fill="none" stroke-width="3"/>
</g>

<!-- ===== CONNECTORS ===== -->
<g id="connectors" class="e">
<path d="M187,319.8 L302,320.15"/>
<path d="M179,437.8 C230,438 258,456 302,456"/>
<path d="M180,675.8 C215,665 230,612 238,545 C247,460 258,368 302,365.5"/>
<path d="M235,781.8 C265,768 283,725 283,680 C283,600 255,545 255,465 C255,340 262,192 302,184.3"/>
<path d="M179,437.8 C228,425 262,380 265,300 C268,210 246,140 286,75 C320,22 420,14 560,12 C800,10 990,40 1035,170 C1065,270 1070,346.5 1115,346.5"/>
<path d="M235,781.8 C262,745 272,690 270,610 C264,440 246,300 250,160 C253,70 310,18 440,10 C600,4 700,60 722,200 C735,300 745,420 803,434.6"/>
<path d="M463,116.3 C620,120 820,210 960,290 C1040,335 1075,346.5 1115,346.5"/>
<path d="M463,116.3 C650,135 890,380 990,450 C1045,485 1080,490.7 1115,490.7"/>
<path d="M463,116.3 C492,130 502,250 505,400 C508,500 520,542.6 557,542.6"/>
<path d="M463,116.3 C496,140 513,300 516,500 C519,620 530,675.6 563,675.6"/>
<path d="M463,116.3 C540,140 735,200 742,400 L746,1960 C748,2010 940,2015 1004,2030.15"/>
<path d="M463,116.3 C560,140 722,260 730,500 L735,1000 C738,1085 765,1123 804,1123"/>
<path d="M463,116.3 C620,90 900,150 960,400 C1000,700 1045,853.3 1115,853.3"/>
<path d="M463,116.3 C482,160 490,400 492,700 L494,1320 C496,1395 520,1421.6 561,1421.6"/>
<path d="M463,116.3 C600,140 700,300 740,380 C760,420 780,434.6 803,434.6"/>
<path d="M180,675.8 C230,650 280,580 400,560 C480,548 520,542.6 557,542.6"/>
<path d="M180,675.8 C250,660 320,600 420,575 C490,555 525,542.6 557,542.6"/>
<path d="M180,675.8 C300,664 450,668 563,675.6"/>
<path d="M180,675.8 L563,675.6"/>
<path d="M180,676 C300,684 450,683 563,676"/>
<path d="M180,676 C300,692 460,690 563,677"/>
<path d="M180,675.8 C300,650 420,628 540,618 C640,608 700,590 722,550 C740,490 760,440 803,434.6"/>
<path d="M180,676 C300,700 450,745 600,748 C680,749 730,747.6 768,747.6"/>
<path d="M235,781.8 C400,772 600,752 768,747.6"/>
<path d="M179,437.8 C230,450 290,500 400,520 C480,535 520,542.6 557,542.6"/>
<path d="M656,675.6 C760,640 900,420 1000,380 C1050,360 1080,346.5 1115,346.5"/>
<path d="M656,675.6 C780,640 920,520 1020,500 C1060,492 1090,490.7 1115,490.7"/>
<path d="M656,675.6 C690,660 718,600 728,540 C738,470 760,434.6 803,434.6"/>
<path d="M656,675.6 C700,690 730,747.6 768,747.6"/>
<path d="M656,675.6 C800,660 950,700 1020,735 C1060,752 1080,755.8 1101,755.8"/>
<path d="M656,675.6 C780,680 900,690 950,720 C1010,760 1050,853.3 1115,853.3"/>
<path d="M656,675.6 C790,682 905,695 955,740 C1010,790 1040,950.5 1100,950.5"/>
<path d="M656,675.6 C700,700 738,800 744,1000 L748,1350 C750,1405 760,1425.6 784,1425.6"/>
<path d="M656,676 C692,720 738,850 741,1000 L744,1450 C746,1500 770,1522.6 811,1522.6"/>
<path d="M656,676 C720,720 748,900 750,1100 L752,2570 C755,2630 900,2635 1000,2625 C1040,2618 1070,2611.8 1092,2611.8"/>
<path d="M656,675.6 C780,680 900,690 950,725 C968,745 970,800 970,1000 L978,2800 C980,2920 1020,2981 1080,2981"/>
<path d="M663,542.6 C700,540 710,470 725,410 C745,340 800,300 900,290 C1000,285 1060,346.5 1115,346.5"/>
<path d="M891,434.6 C912,450 898,492 853,500 C790,510 742,522 728,565 C715,620 706,690 667,713 C640,730 580,730 562,712 C553,702 552,690 563,679"/>
<path d="M891,434.6 C980,420 1040,350 1115,346.5"/>
<path d="M891,434.6 C990,432 1050,360 1115,347"/>
<path d="M891,434.6 C980,440 1040,490.7 1115,490.7"/>
<path d="M891,434.6 C960,450 1000,700 1040,800 C1060,840 1085,853.3 1115,853.3"/>
<path d="M891,434.6 C950,460 990,800 1030,900 C1050,940 1075,950.5 1100,950.5"/>
<path d="M235,781.8 C420,776 820,790 940,860 C975,900 978,1100 978,1300 C978,1365 985,1396 1004,1396"/>
<path d="M235,781.8 C262,800 270,850 272,950 L285,2700 C288,2860 300,2960 420,2995 C560,3030 700,3018.9 803,3018.9"/>
<path d="M235,781.8 C258,800 262,850 264,950 L276,2760 C279,2860 330,2888 450,2890 C700,2894 950,2884 1085,2883.6"/>
<path d="M439,966.8 C490,966 520,953.6 567,953.6"/>
<path d="M439,966.8 C480,930 540,893 650,895 C740,897 770,917.6 808,917.6"/>
<path d="M439,966.8 C520,990 600,1003 750,1003 C900,1003 950,1050 970,1120 C980,1155 990,1169.45 1004,1169.45"/>
<path d="M439,966.8 C520,1000 650,1060 720,1090 C765,1108 780,1123 804,1123"/>
<path d="M439,966.8 C480,1000 490,1100 498,1200 C508,1350 530,1421.6 561,1421.6"/>
<path d="M439,966.8 C520,900 700,850 800,830 C950,800 1040,760 1101,755.8"/>
<path d="M439,966.8 C470,1000 486,1200 494,1380 C505,1460 600,1650 690,1830 C725,1900 738,2000 742,2080 C746,2125 770,2139.3 808,2139.3"/>
<path d="M653,1123 L804,1123"/>
<path d="M653,1123 C690,1120 705,1080 725,1058 C760,1030 880,1008 940,1030 C975,1050 980,1150 985,1180 C990,1190 995,1192.1 1004,1192.1"/>
<path d="M653,1123 C695,1110 715,1060 728,1000 C742,945 770,917.6 808,917.6"/>
<path d="M463,1198.6 C560,1200 700,1185 850,1190 C930,1193 960,1214.75 1004,1214.75"/>
<path d="M463,1198.6 C600,1205 720,1170 760,1140 C780,1126 792,1123 804,1123"/>
<path d="M463,1198.6 C510,1220 520,1400 561,1421.6"/>
<path d="M435,1589.6 C470,1582 482,1460 520,1432 C535,1424 545,1421.6 561,1421.6"/>
<path d="M435,1589.6 C470,1588 490,1540 500,1450 C510,1350 540,1320 610,1290 C700,1250 760,1140 804,1123"/>
<path d="M435,1589.6 C560,1580 690,1480 735,1400 C765,1340 800,1280 880,1276 C940,1276 975,1282.7 1004,1282.7"/>
<path d="M659,1421.6 C700,1400 720,1300 735,1200 C745,1140 770,1123 804,1123"/>
<path d="M659,1421.6 C700,1440 722,1500 752,1560 C772,1600 785,1619.6 808,1619.6"/>
<path d="M659,1421.6 C700,1450 740,1500 770,1515 C790,1522 800,1522.6 811,1522.6"/>
<path d="M889,1123 C950,1110 990,900 1040,870 C1070,855 1090,853.3 1115,853.3"/>
<path d="M889,1327.6 C930,1320 950,1280 960,1200 C975,1050 1050,950.5 1100,950.5"/>
<path d="M885,1619.6 C930,1612 950,1500 955,1300 C960,900 1000,500 1115,490.7"/>
<path d="M885,917.6 C930,915 960,880 990,830 C1030,770 1060,755.8 1101,755.8"/>
<path d="M657,1897.6 C690,1880 702,1845 730,1835 C742,1832 748,1831.25 757,1831.25"/>
<path d="M657,1897.6 C690,1870 716,1800 725,1700 C732,1640 770,1619.6 808,1619.6"/>
<path d="M657,1897.6 C695,1860 718,1760 728,1650 C735,1560 770,1522.6 811,1522.6"/>
<path d="M657,1897.6 C700,1850 730,1700 734,1500 L737,1400 C739,1345 770,1327.6 804,1327.6"/>
<path d="M657,1897.6 C706,1850 732,1700 737,1500 L741,1200 C744,1142 770,1123 804,1123"/>
<path d="M657,1897.6 C710,1850 742,1700 747,1500 L751,1000 C754,940 780,917.6 808,917.6"/>
<path d="M657,1897.6 C715,1850 748,1700 752,1500 L758,520 C760,460 775,434.6 803,434.6"/>
<path d="M657,1897.6 C700,1910 728,1980 735,2050 C740,2110 770,2139.3 808,2139.3"/>
<path d="M657,1897.6 C705,1920 735,2000 742,2080 C748,2125 775,2139.3 808,2139.3"/>
<path d="M657,1897.6 C700,1930 738,2050 745,2150 C750,2210 770,2237.3 800.5,2237.3"/>
<path d="M657,1897.6 C705,1940 745,2100 750,2300 L752,2480 C755,2550 775,2571.5 808,2571.5"/>
<path d="M657,1897.6 C740,1945 900,1940 950,2000 L964,2350 C968,2420 1050,2437.9 1124,2437.9"/>
<path d="M657,1897.6 C735,1950 900,1950 955,2020 L968,2500 C972,2590 1040,2611.8 1092,2611.8"/>
<path d="M657,1897.6 C700,1920 740,2050 748,2300 L753,3000 C756,3075 900,3080 1117,3078.9"/>
<path d="M691,2574 C712,2540 728,2480 730,2400 L732,2100 C735,2020 800,1995 900,1990 C950,1988 972,1972 985,1955 C992,1945 997,1939.55 1004,1939.55"/>
<path d="M691,2574 C715,2530 730,2450 733,2300 L735,2200 C738,2160 770,2139.3 808,2139.3"/>
<path d="M691,2574 C714,2530 726,2440 730,2330 C733,2270 765,2237.3 800.5,2237.3"/>
<path d="M691,2574 C740,2573 770,2571.5 808,2571.5"/>
<path d="M691,2574 C718,2530 736,2420 738,2200 L745,1250 C748,1160 770,1123 804,1123"/>
<path d="M691,2574 C720,2530 740,2420 742,2200 L750,1000 C752,940 780,917.6 808,917.6"/>
<path d="M691,2574 C716,2530 734,2420 736,2200 L740,1400 C742,1345 770,1327.6 804,1327.6"/>
<path d="M691,2574 C717,2530 735,2420 737,2200 L741,1500 C743,1445 760,1425.6 784,1425.6"/>
<path d="M691,2574 C730,2600 752,2700 770,2760 C780,2775 790,2778 804,2778"/>
<path d="M691,2575 C720,2620 740,2800 750,2950 C758,3008 780,3018.9 803,3018.9"/>
<path d="M691,2575 C760,2600 900,2640 960,2600 C1010,2560 1040,2440 1124,2437.9"/>
<path d="M691,2575 C780,2630 900,2676 960,2650 C1000,2632 1040,2611.8 1092,2611.8"/>
<path d="M691,2575 C760,2620 900,2700 960,2800 C1000,2900 1030,2981 1080,2981"/>
<path d="M691,2576 C800,2640 950,2740 955,2900 C970,3000 1030,3078.9 1117,3078.9"/>
<path d="M463,2642.7 L529,2641.95"/>
<path d="M463,2642.7 C490,2630 520,2580 545,2480 C580,2330 680,2160 728,2080 C755,2035 850,2005 940,1995 C975,1990 985,1930 1004,1916.9"/>
<path d="M463,2642.7 C492,2620 504,2560 505,2450 L505,1300 C505,1240 560,1225 650,1215 C720,1205 760,1140 804,1123"/>
<path d="M463,2642.7 C490,2620 499,2560 500,2450 L500,1500 C500,1450 520,1421.6 561,1421.6"/>
<path d="M463,2642.7 C500,2660 530,2720 606,2786 C700,2840 850,2850 930,2800 C975,2770 985,2600 1000,2520 C1015,2460 1080,2437.9 1124,2437.9"/>
<path d="M463,2642.7 C520,2700 560,2800 650,2880 C750,2960 760,3000 770,3060 C790,3090 950,3090 1117,3078.9"/>
<path d="M891,3018.9 C960,3010 1000,2981 1080,2981"/>
<path d="M891,3018.9 C960,3030 1030,3078.9 1117,3078.9"/>
<path d="M891,3018.9 C950,3040 990,3120 1030,3160 C1045,3172 1055,3175.8 1069,3175.8"/>
<path d="M891,3018.9 C950,3000 990,2900 1040,2886 C1060,2884 1070,2883.6 1085,2883.6"/>
<path d="M891,3018.9 C940,3000 955,2900 960,2750 C965,2650 1030,2611.8 1092,2611.8"/>
<path d="M887,2334.7 C920,2335 935,2300 940,2200 L950,1450 C952,1390 975,1362 1004,1350.65"/>
<path d="M905,2453.6 C935,2450 950,2400 955,2300 L962,1450 C964,1405 980,1383 1004,1373.3"/>
<path d="M1239,2709.8 C1290,2705 1318,2600 1325,2300 C1330,2050 1340,1960 1377,1951.55"/>
<path d="M1309,1146.8 C1360,1150 1410,1180 1410,1250 C1410,1400 1330,1550 1300,1650 C1280,1720 1270,1800 1285,1860 C1300,1895 1340,1906.25 1377,1906.25"/>
<path d="M1537,1883.6 L1603,1883.6"/>
<path d="M937,1718 C955,1722 952,1760 952,1850 C952,1960 945,2060 965,2100 C978,2118 990,2120.75 1004,2120.75"/>
</g>

<text x="17" y="3250" style="font-size:18px">Generated by SchemaSpy</text>
</svg>
